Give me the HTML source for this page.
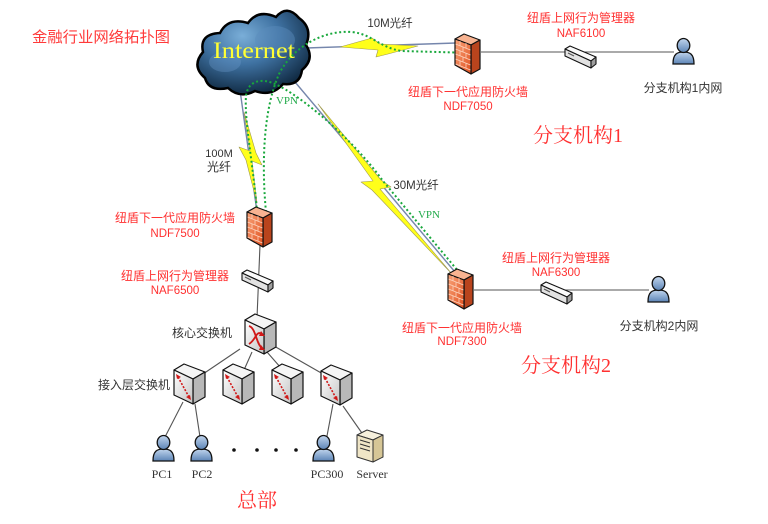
<!DOCTYPE html>
<html><head><meta charset="utf-8"><style>
html,body{margin:0;padding:0;background:#fff;}
svg{display:block;}
</style></head><body>
<svg width="768" height="524" viewBox="0 0 768 524" xmlns="http://www.w3.org/2000/svg">
<defs>
<radialGradient id="gcl" cx="0.4" cy="0.3" r="0.75">
<stop offset="0" stop-color="#7aaed8"/><stop offset="0.45" stop-color="#3f72a2"/><stop offset="1" stop-color="#0b2238"/></radialGradient>
<linearGradient id="gfw" x1="0" y1="0" x2="1" y2="1"><stop offset="0" stop-color="#f9a47a"/><stop offset="1" stop-color="#e0501f"/></linearGradient>
<linearGradient id="gsw" x1="0" y1="0" x2="1" y2="1"><stop offset="0" stop-color="#ffffff"/><stop offset="1" stop-color="#c4c4c4"/></linearGradient>
<linearGradient id="gus" x1="0" y1="0" x2="0" y2="1"><stop offset="0" stop-color="#c2d6ee"/><stop offset="1" stop-color="#5c84b6"/></linearGradient>
<g id="fw">
<polygon points="0,7 9,2 25,8 16,13" fill="#f8b391" stroke="#111" stroke-width="1.2" stroke-linejoin="round"/>
<polygon points="16,13 25,8 25,37 16,42" fill="#b9441d" stroke="#111" stroke-width="1.2" stroke-linejoin="round"/>
<polygon points="0,7 16,13 16,42 0,33" fill="url(#gfw)" stroke="#111" stroke-width="1.2" stroke-linejoin="round"/>
<g stroke="#fdd3bd" stroke-width="0.8">
<line x1="0.5" y1="12" x2="15.5" y2="18"/><line x1="0.5" y1="17" x2="15.5" y2="23"/><line x1="0.5" y1="22" x2="15.5" y2="28"/><line x1="0.5" y1="27" x2="15.5" y2="33"/><line x1="0.5" y1="32" x2="15.5" y2="38"/>
<line x1="5" y1="9" x2="5" y2="14"/><line x1="11" y1="11" x2="11" y2="16"/><line x1="8" y1="15" x2="8" y2="20"/><line x1="5" y1="19" x2="5" y2="24"/><line x1="11" y1="21" x2="11" y2="26"/><line x1="8" y1="25" x2="8" y2="30"/><line x1="5" y1="29" x2="5" y2="34"/><line x1="11" y1="31" x2="11" y2="36"/>
</g>
</g>
<g id="box">
<polygon points="1,7 11,1 32,9 20,16" fill="#f5f5f5" stroke="#111" stroke-width="1.2" stroke-linejoin="round"/>
<polygon points="20,16 32,9 32,34 20,41" fill="#b8b8b8" stroke="#111" stroke-width="1.2" stroke-linejoin="round"/>
<polygon points="1,7 20,16 20,41 1,32" fill="url(#gsw)" stroke="#111" stroke-width="1.2" stroke-linejoin="round"/>
</g>
<g id="acc">
<use href="#box"/>
<line x1="5" y1="14" x2="16" y2="34" stroke="#d01818" stroke-width="1.6" stroke-dasharray="2 1.5"/>
<polygon points="3,11 8,14 4,16" fill="#d01818"/>
<polygon points="18,37 13,34 17,32" fill="#d01818"/>
</g>
<g id="flat">
<polygon points="1,4 6,1 32,12 27,16" fill="#fafafa" stroke="#111" stroke-width="1.1" stroke-linejoin="round"/>
<polygon points="1,4 27,16 27,23 1,11" fill="#e2e2e2" stroke="#111" stroke-width="1.1" stroke-linejoin="round"/>
<polygon points="27,16 32,12 32,19 27,23" fill="#9e9e9e" stroke="#111" stroke-width="1.1" stroke-linejoin="round"/>
<line x1="4" y1="8" x2="10" y2="11" stroke="#555" stroke-width="1"/>
</g>
<g id="user">
<path d="M1,27 C1,17 5,15 11.5,15 C18,15 22,17 22,27 Z" fill="url(#gus)" stroke="#111" stroke-width="1.3"/>
<ellipse cx="11.5" cy="8.5" rx="6.3" ry="7" fill="url(#gus)" stroke="#111" stroke-width="1.3"/>
</g>
</defs>

<!-- connector lines -->
<g stroke="#7586ac" stroke-width="1.4" fill="none">
<line x1="240" y1="90" x2="257" y2="212"/>
<line x1="295" y1="82" x2="455" y2="272"/>
<line x1="306" y1="48" x2="456" y2="43"/>
</g>
<g stroke="#555" stroke-width="1.1" fill="none">
<line x1="260" y1="245" x2="257" y2="318"/>
<line x1="481" y1="52" x2="674" y2="52"/>
<line x1="474" y1="290" x2="649" y2="290"/>
<line x1="240" y1="349" x2="203" y2="374"/>
<line x1="252" y1="352" x2="244" y2="370"/>
<line x1="267" y1="352" x2="281" y2="368"/>
<line x1="274" y1="346" x2="323" y2="374"/>
<line x1="183" y1="402" x2="165" y2="437"/>
<line x1="195" y1="404" x2="200" y2="437"/>
<line x1="333" y1="404" x2="327" y2="436"/>
<line x1="343" y1="406" x2="364" y2="436"/>
</g>

<!-- lightning bolts -->
<g fill="#ffff1a" stroke="#a09a50" stroke-width="0.6" stroke-linejoin="round">
<polygon points="340,47 372,38 380,44 418,46 388,54 376,57 378,50"/>
<polygon points="244,112 256,153 262,165 252,161 257,203 246,160 239,147 250,151"/>
<polygon points="318,104 381,180 391,187 380,189 452,274 372,190 361,182 373,181"/>
</g>

<!-- cloud -->
<path d="M205,78 Q191,66 203,52 Q199,34 220,33 Q228,17 248,23 Q258,9 276,17 Q287,4 299,18 Q313,28 306,45 Q315,59 302,70 Q300,86 283,84 Q272,97 255,91 Q240,99 228,88 Q209,92 205,78 Z" fill="url(#gcl)" stroke="#000" stroke-width="2.5"/>
<ellipse cx="275" cy="40" rx="20" ry="14" fill="#5a8cbc" opacity="0.45"/>
<ellipse cx="225" cy="62" rx="16" ry="10" fill="#6c9ccc" opacity="0.35"/>
<text x="213" y="58" font-family="Liberation Serif, serif" font-size="23" fill="#ffff33" textLength="82" lengthAdjust="spacingAndGlyphs">Internet</text>

<!-- VPN dotted -->
<g stroke="#18a83c" stroke-width="2" fill="none" stroke-dasharray="2 2.5">
<path d="M266,212 C262,170 262,110 280,72 C295,45 325,30 352,32 C372,34 380,48 402,51 L472,53"/>
<path d="M257,212 C254,170 244,120 246,96 C248,80 262,78 275,84 C300,95 352,138 383,181 L468,283"/>
</g>

<!-- icons -->
<use href="#fw" x="455" y="32"/>
<use href="#fw" x="247" y="205"/>
<use href="#fw" x="448" y="267"/>
<use href="#flat" x="564" y="45"/>
<use href="#flat" x="241" y="269"/>
<use href="#flat" x="540" y="281"/>
<use href="#box" x="244" y="313"/>
<g stroke="#d01818" stroke-width="1.8" fill="none">
<path d="M249,326 C256,328 256,344 262,348"/>
<path d="M249,344 C256,340 256,330 262,334"/>
</g>
<g fill="#d01818">
<polygon points="261,345 265,350 259,350"/>
<polygon points="261,331 265,336 259,336"/>
</g>
<use href="#acc" x="173" y="363"/>
<use href="#acc" x="222" y="363"/>
<use href="#acc" x="271" y="363"/>
<use href="#acc" x="320" y="364"/>
<use href="#user" x="672" y="37"/>
<use href="#user" x="647" y="275"/>
<use href="#user" x="152" y="434"/>
<use href="#user" x="190" y="434"/>
<use href="#user" x="312" y="434"/>
<!-- server -->
<g stroke="#333" stroke-width="1" stroke-linejoin="round">
<polygon points="0,5 10,0 26,5 16,10" transform="translate(357,430)" fill="#f6f0dc"/>
<polygon points="16,10 26,5 26,27 16,32" transform="translate(357,430)" fill="#d6c696"/>
<polygon points="0,5 16,10 16,32 0,27" transform="translate(357,430)" fill="#efe5c6"/>
<line x1="360" y1="440" x2="370" y2="443"/>
<line x1="360" y1="444" x2="370" y2="447"/>
<line x1="360" y1="448" x2="370" y2="451"/>
</g>
<g fill="#111">
<circle cx="234" cy="450" r="1.8"/><circle cx="257" cy="450" r="1.8"/><circle cx="276" cy="450" r="1.8"/><circle cx="296" cy="450" r="1.8"/>
</g>

<!-- text -->
<g font-family="Liberation Sans, Noto Sans CJK SC, sans-serif" text-anchor="middle">
<text x="101" y="42" font-size="15" fill="#ff3a3a" textLength="138" lengthAdjust="spacingAndGlyphs">金融行业网络拓扑图</text>
<text x="390" y="27" font-size="11.5" fill="#333">10M光纤</text>
<text x="581" y="22" font-size="12" fill="#ff3030">纽盾上网行为管理器</text>
<text x="581" y="37" font-size="11.5" fill="#ff3030">NAF6100</text>
<text x="468" y="96" font-size="12" fill="#ff3030">纽盾下一代应用防火墙</text>
<text x="468" y="110" font-size="11.5" fill="#ff3030">NDF7050</text>
<text x="683" y="92" font-size="12" fill="#333">分支机构1内网</text>
<text x="219" y="157" font-size="11" fill="#333">100M</text>
<text x="219" y="171" font-size="12" fill="#333">光纤</text>
<text x="416" y="189" font-size="11.5" fill="#333">30M光纤</text>
<text x="175" y="222" font-size="12" fill="#ff3030">纽盾下一代应用防火墙</text>
<text x="175" y="237" font-size="11.5" fill="#ff3030">NDF7500</text>
<text x="175" y="280" font-size="12" fill="#ff3030">纽盾上网行为管理器</text>
<text x="175" y="294" font-size="11.5" fill="#ff3030">NAF6500</text>
<text x="202" y="337" font-size="12" fill="#333">核心交换机</text>
<text x="134" y="389" font-size="12" fill="#333">接入层交换机</text>
<text x="556" y="262" font-size="12" fill="#ff3030">纽盾上网行为管理器</text>
<text x="556" y="276" font-size="11.5" fill="#ff3030">NAF6300</text>
<text x="462" y="332" font-size="12" fill="#ff3030">纽盾下一代应用防火墙</text>
<text x="462" y="345" font-size="11.5" fill="#ff3030">NDF7300</text>
<text x="659" y="330" font-size="12" fill="#333">分支机构2内网</text>
</g>
<g font-family="Liberation Serif, serif" text-anchor="middle" fill="#22aa4a" font-size="11">
<text x="287" y="104">VPN</text>
<text x="429" y="218">VPN</text>
</g>
<g font-family="Liberation Serif, serif" text-anchor="middle" fill="#333" font-size="12">
<text x="162" y="478">PC1</text>
<text x="202" y="478">PC2</text>
<text x="327" y="478">PC300</text>
<text x="372" y="478">Server</text>
</g>
<g font-family="Liberation Serif, Noto Serif CJK SC, serif" text-anchor="middle" fill="#ff3030" font-size="20">
<text x="578" y="142">分支机构1</text>
<text x="566" y="372">分支机构2</text>
<text x="257" y="507">总部</text>
</g>
</svg>
</body></html>
